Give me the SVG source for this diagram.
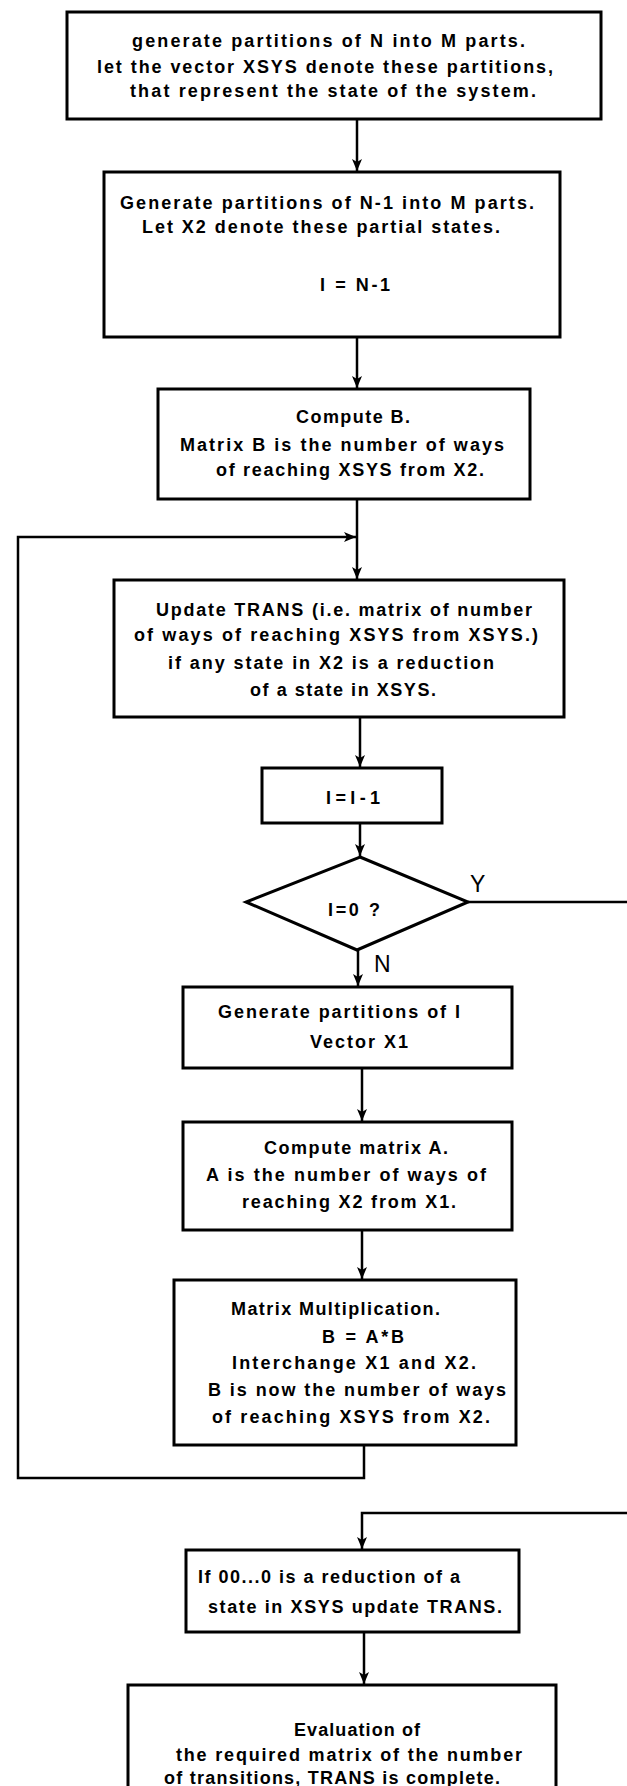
<svg xmlns="http://www.w3.org/2000/svg" width="627" height="1786" viewBox="0 0 627 1786">
<style>
.box{fill:#fff;stroke:#000;stroke-width:3}
.t{font-family:"Liberation Sans",Arial,sans-serif;font-weight:bold;font-size:18px;fill:#000}
.lbl{font-family:"Liberation Sans",Arial,sans-serif;font-size:23px;fill:#000}
.c{fill:none;stroke:#000;stroke-width:2.5}
</style>
<defs>
<marker id="ah" markerUnits="userSpaceOnUse" markerWidth="14" markerHeight="12" refX="12" refY="5" orient="auto">
<path d="M0,0 L12,5 L0,10 L3,5 z" fill="#000"/>
</marker>
</defs>
<rect width="627" height="1786" fill="#fff"/>
<g id="connectors">
<path class="c" d="M357,119 L357,171" marker-end="url(#ah)"/>
<path class="c" d="M357,337 L357,388" marker-end="url(#ah)"/>
<path class="c" d="M357,499 L357,579" marker-end="url(#ah)"/>
<path class="c" d="M364,1445 L364,1478 L18,1478 L18,537 L356,537" marker-end="url(#ah)"/>
<path class="c" d="M360,717 L360,767" marker-end="url(#ah)"/>
<path class="c" d="M360,823 L360,856" marker-end="url(#ah)"/>
<path class="c" d="M358,950 L358,986" marker-end="url(#ah)"/>
<path class="c" d="M362,1068 L362,1121" marker-end="url(#ah)"/>
<path class="c" d="M362,1230 L362,1279" marker-end="url(#ah)"/>
<path class="c" d="M468,902 L627,902"/>
<path class="c" d="M627,1513 L362,1513 L362,1549" marker-end="url(#ah)"/>
<path class="c" d="M364,1632 L364,1684" marker-end="url(#ah)"/>
</g>
<g id="n1">
<rect class="box" x="67" y="12" width="534" height="107"/>
<text class="t" x="132" y="47" textLength="393">generate partitions of N into M parts.</text>
<text class="t" x="97" y="73" textLength="456">let the vector XSYS denote these partitions,</text>
<text class="t" x="130" y="97" textLength="406">that represent the state of the system.</text>
</g>
<g id="n2">
<rect class="box" x="104" y="172" width="456" height="165"/>
<text class="t" x="120" y="209" textLength="414">Generate partitions of N-1 into M parts.</text>
<text class="t" x="142" y="233" textLength="358">Let X2 denote these partial states.</text>
<text class="t" x="320" y="291" textLength="70">I = N-1</text>
</g>
<g id="n3">
<rect class="box" x="158" y="389" width="372" height="110"/>
<text class="t" x="296" y="423" textLength="114">Compute B.</text>
<text class="t" x="180" y="451" textLength="324">Matrix B is the number of ways</text>
<text class="t" x="216" y="476" textLength="268">of reaching XSYS from X2.</text>
</g>
<g id="n4">
<rect class="box" x="114" y="580" width="450" height="137"/>
<text class="t" x="156" y="616" textLength="376">Update TRANS (i.e. matrix of number</text>
<text class="t" x="134" y="641" textLength="404">of ways of reaching XSYS from XSYS.)</text>
<text class="t" x="168" y="669" textLength="326">if any state in X2 is a reduction</text>
<text class="t" x="250" y="696" textLength="186">of a state in XSYS.</text>
</g>
<g id="n5">
<rect class="box" x="262" y="768" width="180" height="55"/>
<text class="t" x="326" y="804" textLength="54">I=I-1</text>
</g>
<g id="n6">
<polygon class="box" points="360,857 468,902 357,950 246,902"/>
<text class="t" x="328" y="916" textLength="52">I=0 ?</text>
<text class="lbl" x="470" y="892">Y</text>
<text class="lbl" x="374" y="972">N</text>
</g>
<g id="n7">
<rect class="box" x="183" y="987" width="329" height="81"/>
<text class="t" x="218" y="1018" textLength="242">Generate partitions of I</text>
<text class="t" x="310" y="1048" textLength="98">Vector X1</text>
</g>
<g id="n8">
<rect class="box" x="183" y="1122" width="329" height="108"/>
<text class="t" x="264" y="1154" textLength="184">Compute matrix A.</text>
<text class="t" x="206" y="1181" textLength="280">A is the number of ways of</text>
<text class="t" x="242" y="1208" textLength="214">reaching X2 from X1.</text>
</g>
<g id="n9">
<rect class="box" x="174" y="1280" width="342" height="165"/>
<text class="t" x="231" y="1315" textLength="209">Matrix Multiplication.</text>
<text class="t" x="322" y="1343" textLength="82">B = A*B</text>
<text class="t" x="232" y="1369" textLength="244">Interchange X1 and X2.</text>
<text class="t" x="208" y="1396" textLength="298">B is now the number of ways</text>
<text class="t" x="212" y="1423" textLength="278">of reaching XSYS from X2.</text>
</g>
<g id="n10">
<rect class="box" x="186" y="1550" width="333" height="82"/>
<text class="t" x="198" y="1583" textLength="262">If 00...0 is a reduction of a</text>
<text class="t" x="208" y="1613" textLength="294">state in XSYS update TRANS.</text>
</g>
<g id="n11">
<rect class="box" x="128" y="1685" width="428" height="110"/>
<text class="t" x="294" y="1736" textLength="126">Evaluation of</text>
<text class="t" x="176" y="1761" textLength="346">the required matrix of the number</text>
<text class="t" x="164" y="1784" textLength="336">of transitions, TRANS is complete.</text>
</g>
</svg>
